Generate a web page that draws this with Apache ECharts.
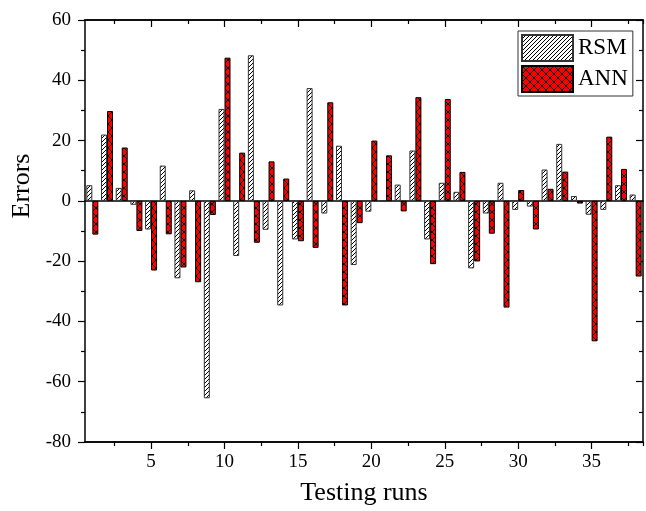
<!DOCTYPE html>
<html><head><meta charset="utf-8">
<script src="https://cdn.jsdelivr.net/npm/echarts@6/dist/echarts.min.js"></script>
<style>html,body{margin:0;padding:0;background:#fff}#c{width:646px;height:511px}</style>
</head><body><div id="c"></div>
<script>
var runs = ['1','2','3','4','5','6','7','8','9','10','11','12','13','14','15','16','17','18','19','20','21','22','23','24','25','26','27','28','29','30','31','32','33','34','35','36','37','38'];
var rsm = [5.2,22.0,4.3,-1.3,-9.5,11.7,-25.7,3.5,-65.5,30.5,-18.3,48.3,-9.6,-34.7,-12.8,37.4,-4.2,18.3,-21.3,-3.6,0,5.4,16.7,-12.8,6.0,3.0,-22.4,-4.2,6.0,-3.0,-1.9,10.4,18.9,1.6,-4.6,-3.0,5.2,2.1];
var ann = [-11.2,29.8,17.7,-10.0,-23.1,-11.1,-22.1,-27.0,-4.7,47.5,16.0,-13.9,13.1,7.4,-13.4,-15.6,32.7,-34.7,-7.4,20.0,15.1,-3.5,34.4,-21.0,33.8,9.6,-20.1,-10.9,-35.4,3.6,-9.5,4.0,9.7,-0.9,-46.6,21.3,10.6,-25.1];
var seriesNames = ['RSM','ANN'];
var yTicks = {min:-80, max:60, interval:20};

function hatch(){
  var c=document.createElement('canvas');c.width=4;c.height=4;
  var g=c.getContext('2d');g.fillStyle='#fff';g.fillRect(0,0,4,4);
  g.fillStyle='#000';
  for(var i=0;i<4;i++){g.fillRect(i,3-i,1,1);}
  return c;
}
function cross(){
  var c=document.createElement('canvas');c.width=8;c.height=8;
  var g=c.getContext('2d');g.fillStyle='#ff0000';g.fillRect(0,0,8,8);
  g.fillStyle='#000';
  for(var i=0;i<8;i++){g.fillRect(i,i,1,1);g.fillRect(i,7-i,1,1);}
  return c;
}
var font='Liberation Serif';
var chart=echarts.init(document.getElementById('c'),null,{renderer:'canvas'});
var major=function(i){return (i+1)%5===0;};
var minor=function(i){return i%5===2;};
var lineStyle={color:'#000',width:1.5};
function xAx(pos,isMinor,inside,extra){
  var o={type:'category',data:runs,position:pos,boundaryGap:true,
    axisLine:{show:true,onZero:false,lineStyle:lineStyle},
    axisTick:{show:true,alignWithLabel:!isMinor,interval:isMinor?minor:major,inside:inside,length:isMinor?4:7,lineStyle:{color:'#000',width:1.2}},
    axisLabel:{show:false},splitLine:{show:false}};
  if(extra){for(var k in extra)o[k]=extra[k];}
  return o;
}
var option={
  backgroundColor:'#fff',
  animation:false,
  grid:{left:85,right:3,top:20,bottom:63,containLabel:false},
  legend:{data:seriesNames,left:518,top:31,orient:'vertical',itemWidth:51,itemHeight:26,itemGap:3,
    padding:[3,5,3,3],borderColor:'#333',borderWidth:1,icon:'rect',
    textStyle:{fontFamily:font,fontSize:23,color:'#000'}},
  xAxis:[
    xAx('bottom',false,false,{
      axisLabel:{show:true,interval:major,fontFamily:font,fontSize:19,color:'#000',margin:11},
      name:'Testing runs',nameLocation:'middle',nameGap:38,
      nameTextStyle:{fontFamily:font,fontSize:26,color:'#000'}}),
    xAx('bottom',true,false),
    xAx('top',false,true),
    xAx('top',true,true),
    {type:'category',data:runs,boundaryGap:true,axisLine:{show:true,onZero:true,lineStyle:lineStyle},
     axisTick:{show:false},axisLabel:{show:false},splitLine:{show:false}}
  ],
  yAxis:[
    {type:'value',position:'left',min:yTicks.min,max:yTicks.max,interval:yTicks.interval,
     axisLine:{show:true,onZero:false,lineStyle:lineStyle},
     axisTick:{show:true,length:7,lineStyle:{color:'#000',width:1.2}},
     minorTick:{show:true,splitNumber:2,length:4,lineStyle:{color:'#000',width:1.2}},
     axisLabel:{fontFamily:font,fontSize:19,color:'#000',margin:14},
     splitLine:{show:false},
     name:'Errors',nameLocation:'middle',nameGap:47,
     nameTextStyle:{fontFamily:font,fontSize:26,color:'#000',padding:[0,0,0,90]}},
    {type:'value',position:'right',min:yTicks.min,max:yTicks.max,interval:yTicks.interval,
     axisLine:{show:true,onZero:false,lineStyle:lineStyle},
     axisTick:{show:true,inside:true,length:7,lineStyle:{color:'#000',width:1.2}},
     minorTick:{show:true,splitNumber:2,length:4,lineStyle:{color:'#000',width:1.2}},
     axisLabel:{show:false},splitLine:{show:false}}
  ],
  series:[
    {name:'RSM',type:'bar',data:rsm,xAxisIndex:0,yAxisIndex:0,barWidth:6,barGap:'0%',
     itemStyle:{color:{image:hatch(),repeat:'repeat'},borderColor:'#333',borderWidth:1}},
    {name:'ANN',type:'bar',data:ann,xAxisIndex:0,yAxisIndex:0,barWidth:6,barGap:'0%',
     itemStyle:{color:{image:cross(),repeat:'repeat'},borderColor:'#000',borderWidth:1}}
  ]
};
chart.setOption(option);
</script></body></html>
